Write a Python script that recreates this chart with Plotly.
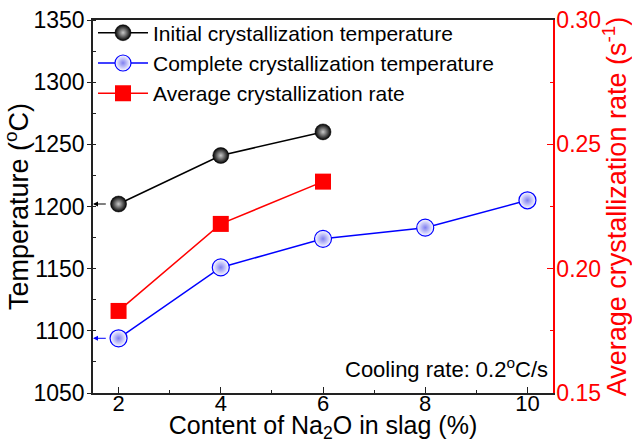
import plotly.graph_objects as go

na2o = [2, 4, 6, 8, 10]
initial_x = [2, 4, 6]
initial_temp = [1202, 1241, 1260]
complete_x = [2, 4, 6, 8, 10]
complete_temp = [1094, 1151, 1174, 1183, 1205]
rate_x = [2, 4, 6]
rate = [0.183, 0.218, 0.235]

FONT = "Liberation Sans, Arial, sans-serif"
AX = "#222222"
fig = go.Figure()

fig.add_trace(go.Scatter(
    x=initial_x, y=initial_temp, mode="lines+markers",
    name="Initial crystallization temperature",
    line=dict(color="black", width=1.5),
    marker=dict(symbol="circle", size=16, color="black",
                gradient=dict(type="radial", color="#c8c8c8"),
                line=dict(color="black", width=0.5)),
))
fig.add_trace(go.Scatter(
    x=complete_x, y=complete_temp, mode="lines+markers",
    name="Complete crystallization temperature",
    line=dict(color="blue", width=1.5),
    marker=dict(symbol="circle", size=17, color="white",
                gradient=dict(type="radial", color="#8080f0"),
                line=dict(color="blue", width=1.2)),
))
fig.add_trace(go.Scatter(
    x=rate_x, y=rate, mode="lines+markers", yaxis="y2",
    name="Average crystallization rate",
    line=dict(color="red", width=1.5),
    marker=dict(symbol="square", size=16, color="red",
                line=dict(color="red", width=0)),
))

# small arrows pointing to the left axis
for yv, col in [(initial_temp[0], "black"), (complete_temp[0], "blue")]:
    fig.add_annotation(x=1.5, y=yv, ax=1.78, ay=yv, xref="x", yref="y",
                       axref="x", ayref="y", showarrow=True, text="",
                       arrowhead=2, arrowsize=1, arrowwidth=1, arrowcolor=col)

fig.add_annotation(x=1.0, y=0.0, xref="paper", yref="paper",
                   xanchor="right", yanchor="bottom", yshift=9, xshift=-3,
                   showarrow=False,
                   text="Cooling rate: 0.2<sup>o</sup>C/s",
                   font=dict(family=FONT, size=22, color="black"))

fig.update_layout(
    width=632, height=443,
    margin=dict(l=93, r=79, t=20, b=50, autoexpand=False),
    paper_bgcolor="white", plot_bgcolor="white",
    font=dict(family=FONT, color="black"),
    showlegend=True,
    legend=dict(x=0.0, y=1.02, xanchor="left", yanchor="top",
                bgcolor="rgba(0,0,0,0)", font=dict(size=21, family=FONT),
                tracegroupgap=0, itemwidth=50),
    xaxis=dict(range=[1.5, 10.5], tickvals=na2o, ticks="inside", ticklen=6,
               tickwidth=1.2, tickcolor=AX, showline=True, linecolor=AX,
               linewidth=1.5, mirror=True, showgrid=False, zeroline=False,
               automargin=False, ticklabelstandoff=-10,
               minor=dict(dtick=1, ticklen=3, tickcolor=AX, ticks="inside"),
               tickfont=dict(size=22),
               title=dict(text="Content of Na<sub>2</sub>O in slag (%)",
                          font=dict(size=25), standoff=0)),
    yaxis=dict(range=[1050, 1350], dtick=50, ticks="outside", ticklen=4,
               tickwidth=1.2, tickcolor=AX, showline=True, linecolor=AX,
               linewidth=1.5, showgrid=False, zeroline=False, automargin=False,
               ticklabelstandoff=-2,
               minor=dict(dtick=25, ticklen=3, tickcolor=AX, ticks="inside"),
               tickfont=dict(size=23),
               title=dict(text="Temperature (<sup>o</sup>C)", font=dict(size=27),
                          standoff=0)),
    yaxis2=dict(range=[0.15, 0.30], dtick=0.05, tickformat=".2f",
                overlaying="y", side="right", ticks="inside", ticklen=6,
                tickwidth=1.2, tickcolor="red", showline=True, linecolor="red",
                linewidth=1.5, showgrid=False, zeroline=False, automargin=False,
                ticklabelstandoff=-3,
                minor=dict(dtick=0.025, ticklen=3, tickcolor="red", ticks="inside"),
                tickfont=dict(size=23, color="red"),
                title=dict(text="Average crystallization rate (s<sup>-1</sup>)",
                           font=dict(size=27, color="red"), standoff=2)),
)

fig.write_html("out.html")
